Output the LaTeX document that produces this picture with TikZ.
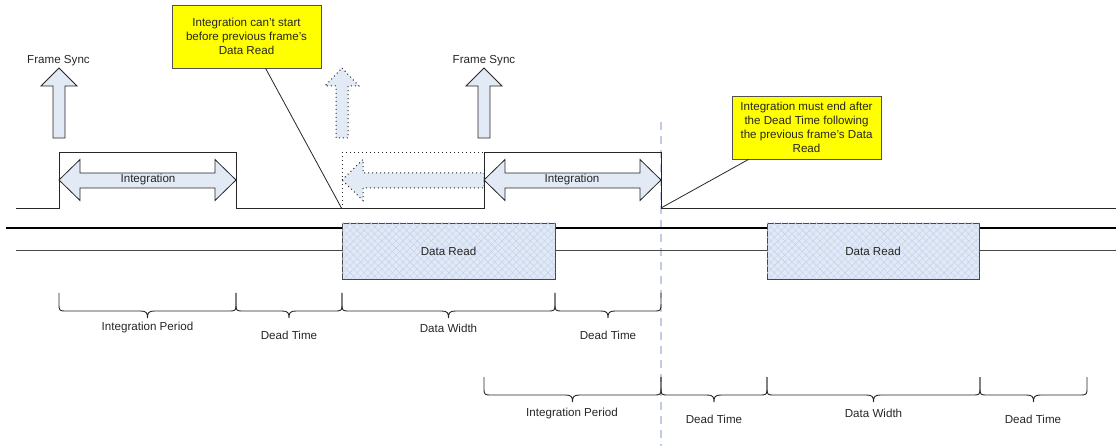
\documentclass[tikz,border=0pt]{standalone}
\usepackage{fontspec}
\setmainfont{Liberation Sans}
\usetikzlibrary{patterns.meta}

\definecolor{arrowfill}{RGB}{226,234,246}
\definecolor{readfill}{RGB}{224,233,245}
\definecolor{hatch}{RGB}{192,208,234}
\definecolor{guide}{RGB}{190,205,228}
\definecolor{ink}{RGB}{38,38,38}
\definecolor{note}{RGB}{255,255,0}

% curly brace spanning one timing interval: left x, right x, top y
\newcommand\timebrace[3]{%
  \draw[brace] (#1,#3) -- ({#1},{#3+10})
    .. controls ({#1},{#3+18}) .. ({#1+8},{#3+18})
    -- ({(#1+#2)/2-7},{#3+18})
    .. controls ({(#1+#2)/2-1},{#3+18}) and ({(#1+#2)/2},{#3+20}) .. ({(#1+#2)/2},{#3+25})
    .. controls ({(#1+#2)/2},{#3+20}) and ({(#1+#2)/2+1},{#3+18}) .. ({(#1+#2)/2+7},{#3+18})
    -- ({#2-8},{#3+18})
    .. controls ({#2},{#3+18}) .. ({#2},{#3+10}) -- (#2,#3);%
}

\tikzset{
  lbl/.style={font=\fontsize{11.6}{13.9}\selectfont, text=ink, inner sep=0pt, align=center},
  bigarrow/.style={fill=arrowfill, draw=ink, line width=0.8pt, line join=miter},
  ghostarrow/.style={fill=arrowfill, draw=ink, line width=1pt, dash pattern=on 1pt off 3pt},
  signal/.style={draw=ink, line width=1pt},
  brace/.style={draw=ink, line width=0.9pt},
  callout/.style={lbl, fill=note, draw=ink!80, line width=0.8pt,
    minimum width=149pt, minimum height=63pt},
  readbox/.style={lbl, fill=readfill, draw=ink!85, line width=0.9pt,
    minimum height=56pt,
    postaction={pattern={Lines[angle=45,distance=5pt,line width=0.4pt]}, pattern color=hatch},
    postaction={pattern={Lines[angle=-45,distance=5pt,line width=0.4pt]}, pattern color=hatch}},
}

\begin{document}
\begin{tikzpicture}[x=1pt,y=-1pt]
\useasboundingbox (0,0) rectangle (1116,446);

% frame boundary guide
\draw[guide, line width=1.6pt, dash pattern=on 8pt off 6pt] (661,122) -- (661,446);

% bus lines
\draw[black, line width=2.4pt] (6,228) -- (1116,228);
\draw[ink!85, line width=1pt] (16,251) -- (1116,251);

% data read windows
\node[readbox, minimum width=213pt] (read1) at (448.5,251) {Data Read};
\node[readbox, minimum width=212pt] (read2) at (873,251) {Data Read};

% frame sync pulses
\draw[bigarrow] (59,68) -- (77,86) -- (65,86) -- (65,138) -- (53,138) -- (53,86) -- (41,86) -- cycle;
\node[lbl] (fs1) at (58.5,61) {Frame Sync};
\draw[bigarrow] (484,68) -- (502,86) -- (490,86) -- (490,138) -- (478,138) -- (478,86) -- (466,86) -- cycle;
\node[lbl] (fs2) at (484,61) {Frame Sync};
% earliest possible frame sync
\draw[ghostarrow] (342,68) -- (359,86) -- (348,86) -- (348,138) -- (336,138) -- (336,86) -- (325,86) -- cycle;

% earliest possible integration window
\draw[ink, line width=1pt, dash pattern=on 1pt off 3pt] (342,209) -- (342,153) -- (484,153);
\draw[ghostarrow] (342,180) -- (363,159.5) -- (363,173) -- (484,173) -- (484,188) -- (363,188) -- (363,200.5) -- cycle;

% integration periods
\draw[bigarrow] (59,180) -- (80,159.5) -- (80,173) -- (215,173) -- (215,159.5) -- (236,180)
  -- (215,200.5) -- (215,188) -- (80,188) -- (80,200.5) -- cycle;
\node[lbl] (int1) at (148,180) {Integration};
\draw[bigarrow] (484,180) -- (505,159.5) -- (505,173) -- (640,173) -- (640,159.5) -- (661,180)
  -- (640,200.5) -- (640,188) -- (505,188) -- (505,200.5) -- cycle;
\node[lbl] (int2) at (572,180) {Integration};

% integration signal
\draw[signal] (16,209) -- (59,209) -- (59,153) -- (236,153) -- (236,209) -- (484,209)
  -- (484,153) -- (661,153) -- (661,209) -- (1116,209);

% notes
\coordinate (early) at (342,209);
\coordinate (late) at (661,208);
\node[callout] (note1) at (246.5,36.5) {Integration can't start\\before previous frame's\\Data Read};
\node[callout] (note2) at (806.5,127.5) {Integration must end after\\the Dead Time following\\the previous frame's Data\\Read};
\draw[ink, line width=0.8pt] ([xshift=94pt]note1.south west) -- (early);
\draw[ink, line width=0.8pt] ([xshift=17pt]note2.south west) -- (late);

% interval braces, current frame
\timebrace{59}{236}{293}
\timebrace{236}{342}{293}
\timebrace{342}{555}{293}
\timebrace{555}{661}{293}
\node[lbl] (ip1) at (147.5,328) {Integration Period};
\node[lbl] (dt1) at (289,335) {Dead Time};
\node[lbl] (dw1) at (448.5,328) {Data Width};
\node[lbl] (dt2) at (608,335) {Dead Time};

% interval braces, next frame
\timebrace{484}{661}{377}
\timebrace{661}{767}{377}
\timebrace{767}{980}{377}
\timebrace{980}{1087}{377}
\node[lbl] (ip2) at (572,413) {Integration Period};
\node[lbl] (dt3) at (714,419) {Dead Time};
\node[lbl] (dw2) at (873.5,413) {Data Width};
\node[lbl] (dt4) at (1033,419) {Dead Time};
\end{tikzpicture}
\end{document}
